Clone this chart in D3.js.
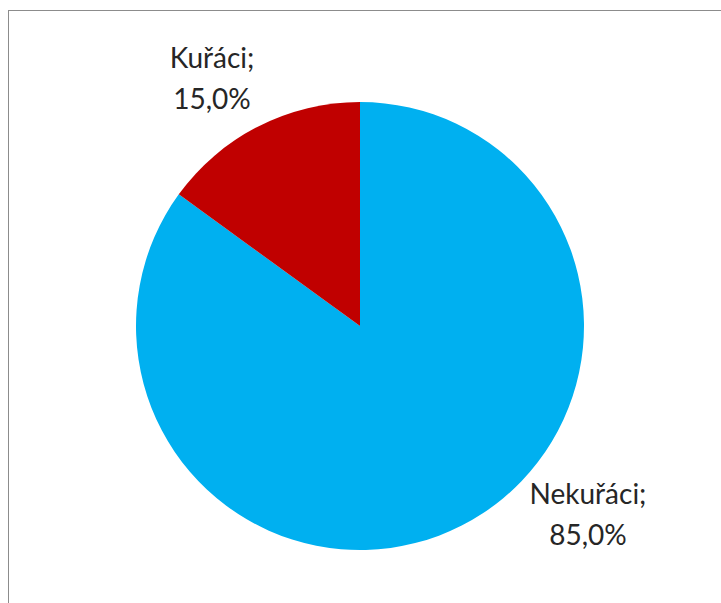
<!DOCTYPE html>
<html>
<head>
<meta charset="utf-8">
<script src="https://cdn.jsdelivr.net/npm/d3@7"></script>
<style>
  html, body { margin: 0; padding: 0; background: #fff; }
  svg { display: block; }
</style>
</head>
<body>
<svg id="chart" width="721" height="603"></svg>
<script>
// Smokers vs non-smokers share
const categories = ["Nekuřáci", "Kuřáci"];
const values = [85.0, 15.0];
const colors = ["#00B0F0", "#C00000"];
const labelAnchors = [[588, 504], [212, 68]]; // label centre x, first-line baseline

const svg = d3.select("#chart");

// chart frame
svg.append("rect")
  .attr("x", 8.5).attr("y", 10.5)
  .attr("width", 730).attr("height", 620)
  .attr("fill", "#fff")
  .attr("stroke", "#8c8c8c")
  .attr("stroke-width", 1);

const cx = 360, cy = 326, r = 224;

const pie = d3.pie().sort(null).value(d => d);
const arc = d3.arc().innerRadius(0).outerRadius(r);
const arcs = pie(values);

const g = svg.append("g").attr("transform", `translate(${cx},${cy})`);
g.selectAll("path")
  .data(arcs)
  .join("path")
  .attr("d", arc)
  .attr("fill", (d, i) => colors[i]);

const fmt = v => d3.format(".1f")(v).replace(".", ",") + "%";

const labels = svg.append("g")
  .attr("font-family", "Lato, 'Open Sans', sans-serif")
  .attr("font-size", 28)
  .attr("fill", "#262626")
  .attr("text-anchor", "middle");

arcs.forEach((d, i) => {
  const [x, y] = labelAnchors[i];
  const t = labels.append("text").attr("x", x).attr("y", y);
  t.append("tspan").attr("x", x).text(categories[i] + ";");
  t.append("tspan").attr("x", x).attr("dy", 41).text(fmt(values[i]));
});
</script>
</body>
</html>
